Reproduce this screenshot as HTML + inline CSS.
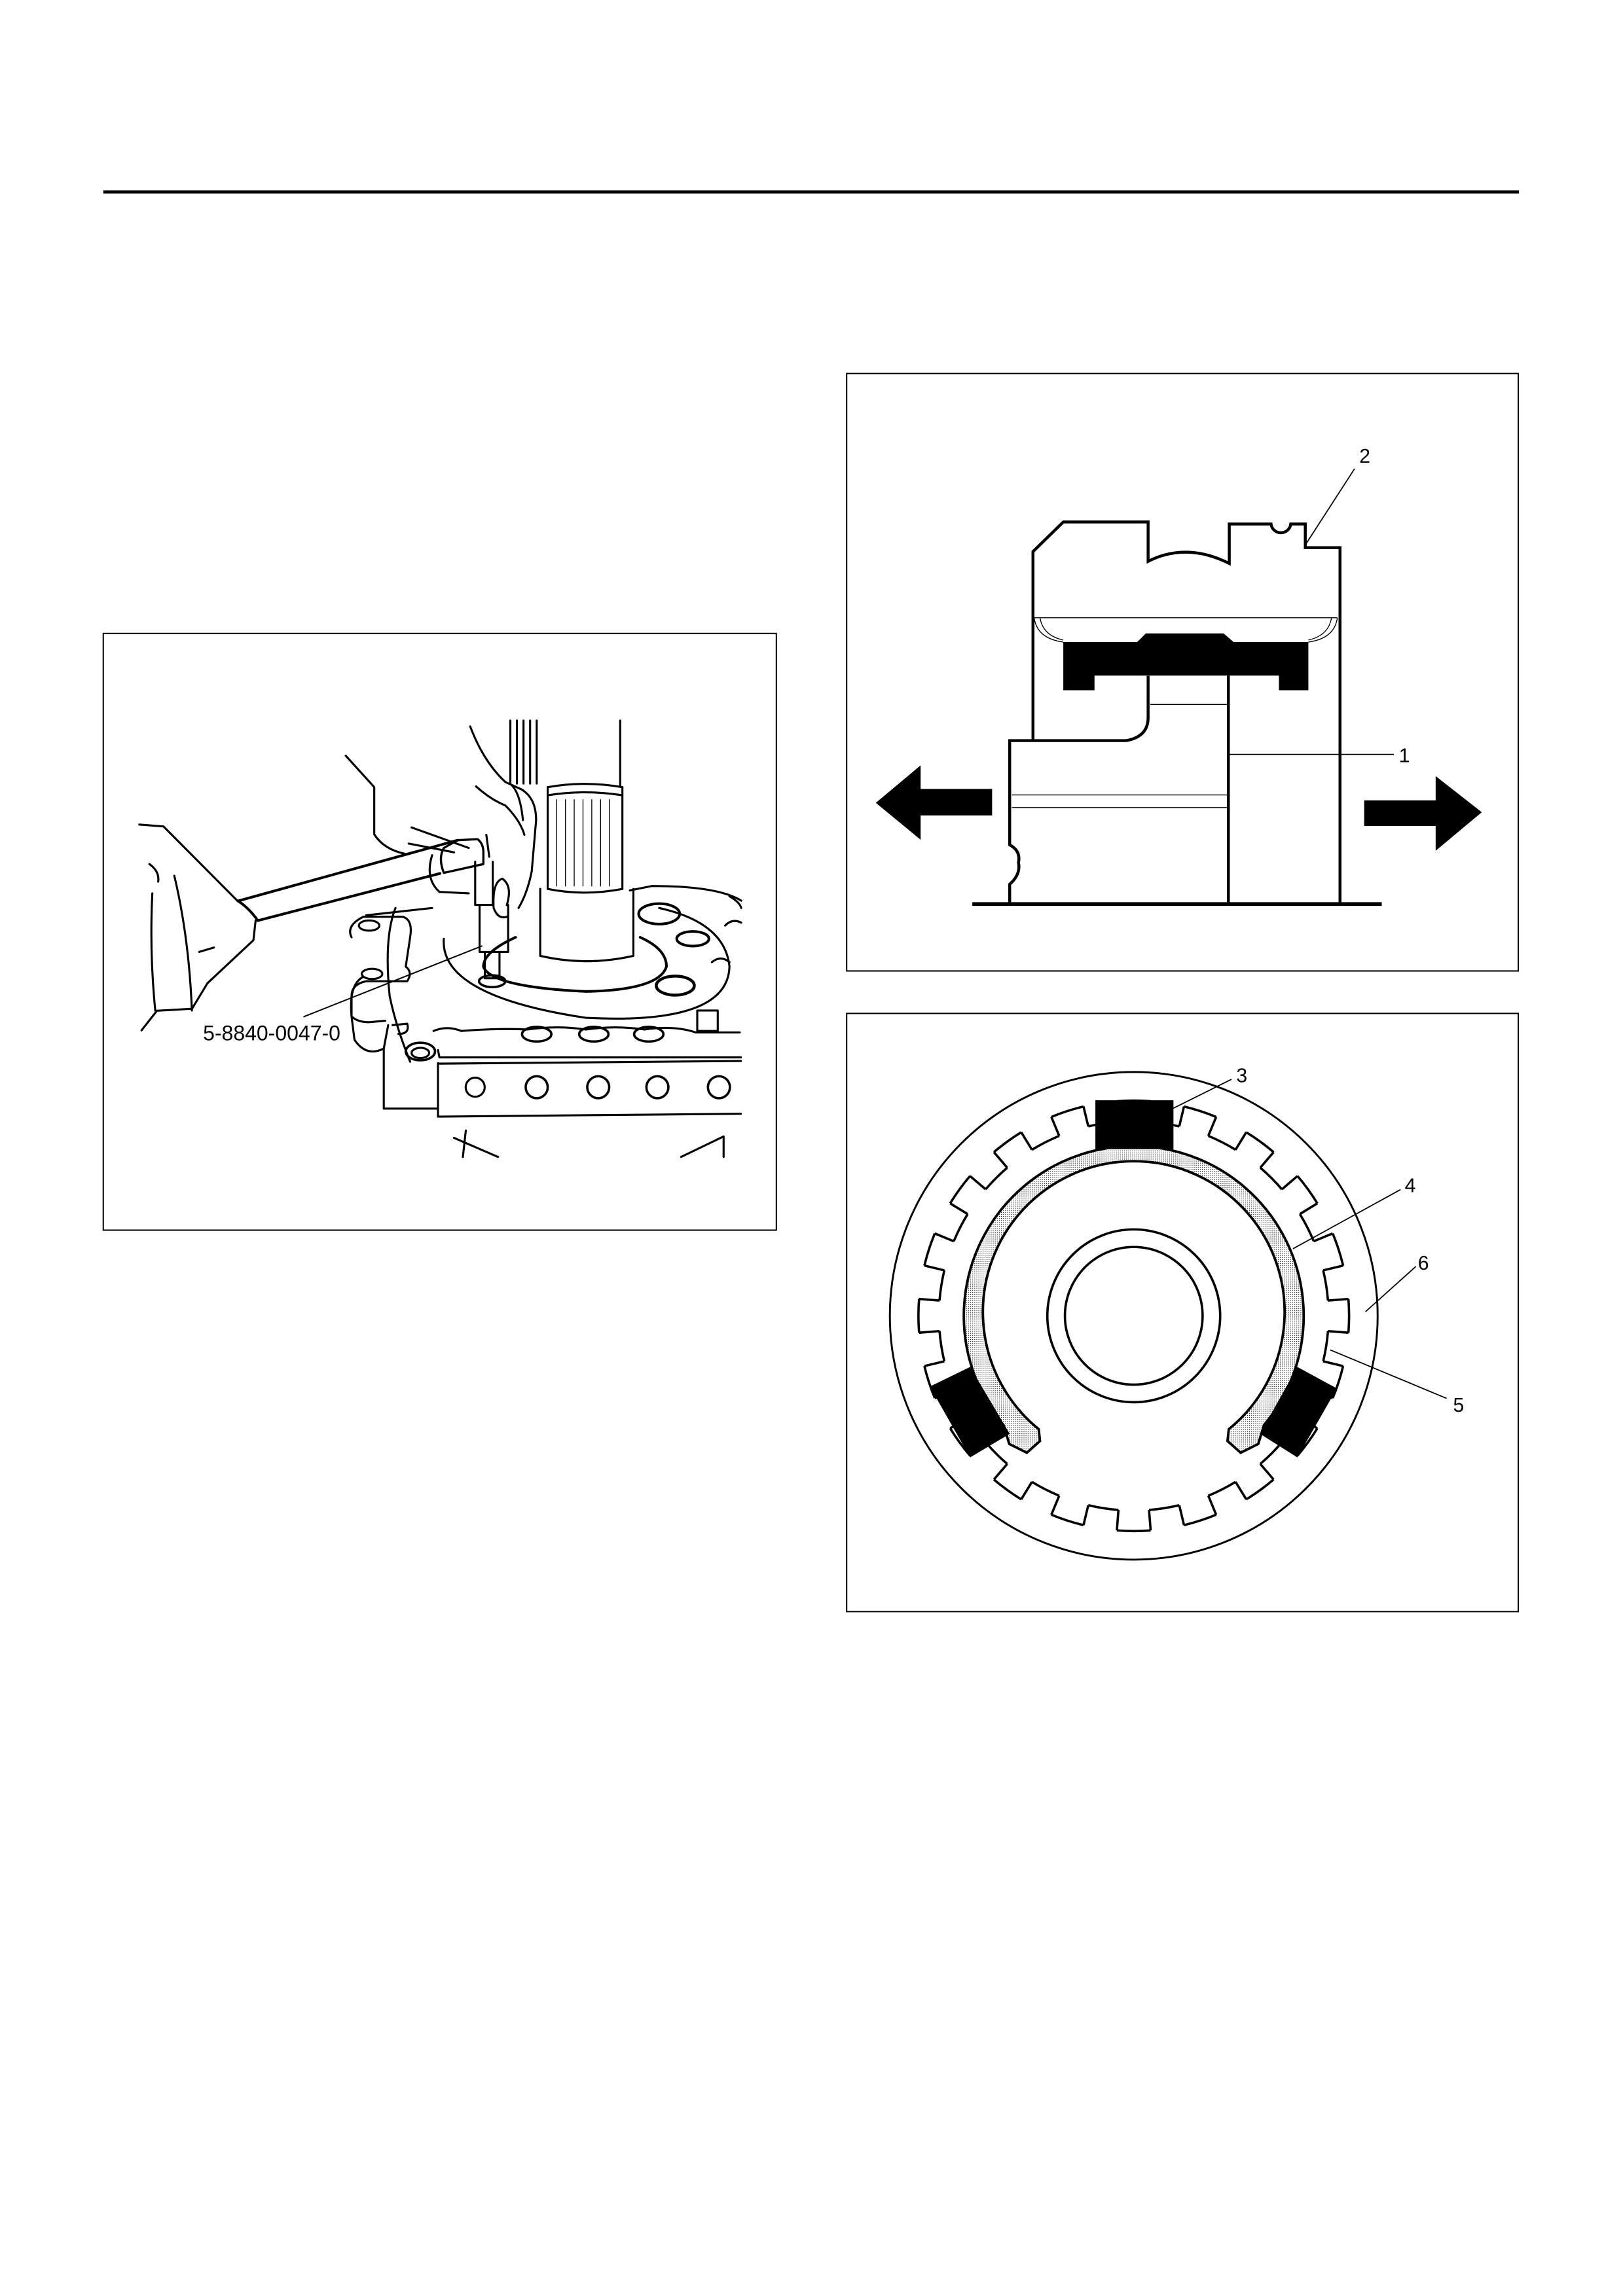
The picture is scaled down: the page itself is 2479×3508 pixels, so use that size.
<!DOCTYPE html>
<html><head><meta charset="utf-8"><style>
html,body{margin:0;padding:0;background:#fff;}
svg{display:block;}
text{font-family:"Liberation Sans",Arial,sans-serif;fill:#000;}
</style></head><body>
<svg width="2479" height="3508" viewBox="0 0 1108 1567.8" xmlns="http://www.w3.org/2000/svg">
<defs>
<pattern id="dots" width="1.4" height="1.4" patternUnits="userSpaceOnUse">
<rect width="1.4" height="1.4" fill="#fff"/><rect x="0.2" y="0.2" width="0.5" height="0.5" fill="#000"/>
</pattern>
<g id="t2" stroke="#000" stroke-width="1.6">
<line x1="907" y1="898.5" x2="921" y2="898.5" transform="rotate(4.5 774 898.5)"/>
<line x1="907" y1="898.5" x2="921" y2="898.5" transform="rotate(13.5 774 898.5)"/>
</g>
<g id="t10">
<use href="#t2"/>
<use href="#t2" transform="rotate(18 774 898.5)"/>
<use href="#t2" transform="rotate(36 774 898.5)"/>
<use href="#t2" transform="rotate(54 774 898.5)"/>
<use href="#t2" transform="rotate(72 774 898.5)"/>
</g>
</defs>
<rect x="0" y="0" width="1108" height="1567.8" fill="#fff"/>
<line x1="70.5" y1="131" x2="1037" y2="131" stroke="#000" stroke-width="2.1"/>

<rect x="70.5" y="432.5" width="459.5" height="407.5" fill="none" stroke="#000" stroke-width="0.9"/>
<rect x="578" y="255" width="458.5" height="408" fill="none" stroke="#000" stroke-width="0.9"/>
<rect x="578" y="692" width="458.5" height="408.5" fill="none" stroke="#000" stroke-width="0.9"/>

<!-- TOP RIGHT -->
<g fill="none" stroke="#000" stroke-width="2">
<path d="M705.2 505.7 L705.2 376.6 L725.9 356.4 L783.8 356.4 L783.8 383.3 Q810 370 839.2 384.7 L839.2 357.8 L867.7 357.8 A6.8 6.8 0 0 0 881.2 357.8 L891.1 357.8 L891.1 373.9 L914.8 373.9 L914.8 616"/>
<path d="M689.3 616 L689.3 603.8 Q697 597 695.3 589 Q697 581 689.3 576.9 L689.3 505.7 L768.8 505.7 Q783.8 503 783.8 490 L783.8 461.5"/>
<line x1="838.6" y1="461.3" x2="838.6" y2="616"/>
<line x1="663.8" y1="617.3" x2="943.3" y2="617.3" stroke-width="2.6"/>
</g>
<g fill="none" stroke="#000" stroke-width="0.6">
<line x1="706" y1="421.8" x2="913" y2="421.8"/>
<path d="M706 421.8 Q708 436 725.9 438.4"/>
<path d="M710 421.8 Q712 434 725.9 437"/>
<path d="M913 421.8 Q911 436 893.2 438.4"/>
<path d="M909 421.8 Q907 434 893.2 437"/>
<line x1="785.3" y1="481" x2="838.6" y2="481"/>
<line x1="690.8" y1="542.8" x2="838.6" y2="542.8"/>
<line x1="690.8" y1="551.4" x2="838.6" y2="551.4"/>
<line x1="838.6" y1="515.1" x2="951.6" y2="515.1" stroke-width="0.8"/>
<line x1="891.7" y1="371.2" x2="924.7" y2="320.1" stroke-width="0.8"/>
</g>
<path d="M725.9 438.4 L776.3 438.4 L782.3 432.5 L835.3 432.5 L842.2 438.4 L893.2 438.4 L893.2 471.3 L873.1 471.3 L873.1 461.3 L747.2 461.3 L747.2 471.3 L725.9 471.3 Z" fill="#000"/>
<path d="M597.9 548.2 L628.5 522.6 L628.5 538.7 L677.3 538.7 L677.3 556.8 L628.5 556.8 L628.5 573.4 Z" fill="#000"/>
<path d="M1011.6 554.6 L980.1 529.9 L980.1 546.5 L931.3 546.5 L931.3 564 L980.1 564 L980.1 580.9 Z" fill="#000"/>
<text x="928" y="316" font-size="13.5">2</text>
<text x="955" y="520.5" font-size="13.5">1</text>

<!-- BOTTOM RIGHT -->
<g fill="none" stroke="#000">
<circle cx="774" cy="898.5" r="166.5" stroke-width="1.3"/>
<circle cx="774" cy="898.5" r="59" stroke-width="1.6"/>
<circle cx="774" cy="898.5" r="47" stroke-width="1.6"/>
<circle cx="774" cy="898.5" r="147" stroke-width="1.6" stroke-dasharray="23.09 23.09" transform="rotate(13.5 774 898.5)"/>
<circle cx="774" cy="898.5" r="133" stroke-width="1.6" stroke-dasharray="20.89 20.89" transform="rotate(4.5 774 898.5)"/>
</g>
<use href="#t10"/>
<use href="#t10" transform="rotate(90 774 898.5)"/>
<use href="#t10" transform="rotate(180 774 898.5)"/>
<use href="#t10" transform="rotate(270 774 898.5)"/>
<path d="M862.9 973.1 A116 116 0 1 0 685.1 973.1 L689 986 L701 992 L710 984 L709.1 975.9 A103 103 0 1 1 838.9 975.9 L838 984 L847 992 L859 986 Z" fill="url(#dots)" stroke="#000" stroke-width="1.7"/>
<rect x="747.8" y="751.3" width="53.3" height="33.4" fill="#000"/>
<path d="M634.8 946.8 L662.3 933.4 L689.3 979.1 L662.3 995.2 Z" fill="#000"/>
<path d="M885.7 933.4 L912.7 948.1 L885.7 995.2 L860.2 979.1 Z" fill="#000"/>
<g stroke="#000" stroke-width="0.8">
<line x1="801.1" y1="756.7" x2="840.7" y2="737"/>
<line x1="882.7" y1="852.7" x2="956.1" y2="812.3"/>
<line x1="932.2" y1="895.7" x2="966.6" y2="864.8"/>
<line x1="908.2" y1="921.8" x2="987.6" y2="954.9"/>
</g>
<text x="844" y="739" font-size="13.5">3</text>
<text x="959" y="814" font-size="13.5">4</text>
<text x="968" y="867" font-size="13.5">6</text>
<text x="992" y="964" font-size="13.5">5</text>

<!-- LEFT ILLUSTRATION -->
<g fill="none" stroke="#000" stroke-width="1.4" stroke-linecap="round" stroke-linejoin="round">
<path d="M348.4 492 V535 M352.9 492 V535 M357.4 492 V535 M361.9 492 V535 M366.4 492 V535 M423.4 492 V537"/>
<path d="M373.9 537.5 Q399 533 424.9 537.5"/>
<path d="M373.9 543 Q399 539 424.9 543"/>
<path d="M373.9 537.5 L373.9 607 M424.9 537.5 L424.9 607"/>
<path stroke-width="0.6" d="M380 546 V605 M386 546 V605 M392 546 V605 M398 546 V605 M404 546 V605 M410 546 V605 M416 546 V605"/>
<path d="M373.9 607 Q399 612 424.9 607"/>
<path d="M368.8 607 L368.8 652.7 Q400 660 432.4 652.7 L432.4 607"/>
<path d="M303 641 Q300 680 400 695 Q497 700 498 660 Q495 630 450 620"/>
<path d="M352 640 Q330 650 330 660 Q335 674 400 677 Q450 676 455 660 Q455 648 437 640" stroke-width="1.8"/>
<path d="M250 625 L295 620 M240 640 Q236 632 248 626 L275 626 Q282 628 280 640 L277 660 Q282 664 278 670 L250 670 Q240 672 240 680 L240 694 Q244 698 252 698 L263 697"/>
<path d="M248 667 Q238 672 240 694 L242 710 Q250 722 262 716 L265 700"/>
<path d="M262 716 L262 757 L299 757"/>
<ellipse cx="252" cy="632" rx="7" ry="3.5"/>
<ellipse cx="254" cy="665" rx="7" ry="3.5"/>
<ellipse cx="287" cy="718" rx="10" ry="6" stroke-width="1.6"/>
<ellipse cx="287" cy="719" rx="6" ry="3.5"/>
<path d="M268 700 L278 699 Q280 706 272 706"/>
<path d="M270 620 Q262 640 266 680 Q270 700 280 725"/>
<path d="M299 717 L300 722 L505.8 722"/>
<path d="M296 704 Q305 700 315 704 Q340 702 360 703 Q380 700 400 703 Q420 700 440 703 Q460 700 475 705 L505 705"/>
<path d="M299 726.3 L505.8 724.5 M299 762.5 L505.8 760.5 M299 726 L299 762.5"/>
<circle cx="324.4" cy="742.4" r="6.5"/>
<g stroke-width="1.6">
<circle cx="366.4" cy="742.4" r="7.5"/>
<circle cx="408.4" cy="742.4" r="7.5"/>
<circle cx="448.8" cy="742.4" r="7.5"/>
<circle cx="490.8" cy="742.4" r="7.5"/>
<ellipse cx="366.4" cy="706.2" rx="10" ry="5"/>
<ellipse cx="405.4" cy="706.2" rx="10" ry="5"/>
<ellipse cx="442.9" cy="706.2" rx="10" ry="5"/>
</g>
<path d="M430 608 L445 605 Q490 605 506 615"/>
<ellipse cx="450" cy="624" rx="14" ry="7" stroke-width="1.8"/>
<ellipse cx="473" cy="641" rx="11" ry="5" stroke-width="1.8"/>
<ellipse cx="461" cy="673" rx="13" ry="6.5" stroke-width="2"/>
<path d="M486 657 Q492 652 498 657"/>
<path d="M476 690 L476 704 L490 704 L490 690 Z"/>
<path d="M498 612 Q505 616 506 620 M495 632 Q500 627 506 630"/>
<path d="M310 777 L340 790 M318 772 L316 790 M465 790 L494 776 L494 790"/>
<path d="M162.5 615.2 L312.4 573.7 M176 628.6 L300.4 596.4" stroke-width="1.8"/>
<path d="M162.5 615.2 Q170 620 176 628.6" stroke-width="1.8"/>
<path d="M312.4 573.7 L326 573 Q330 576 330 582 L330 590 L303 596 Q299 586 303 579 Z" stroke-width="1.5"/>
<path d="M324.4 588.4 L324.4 617.9 L336.4 617.9 L336.4 588.4"/>
<path d="M327.4 617.9 L327.4 650 L346.9 650 L346.9 617.9"/>
<path d="M331 650 L331 668 L341 668 L341 650"/>
<ellipse cx="336" cy="670" rx="9" ry="4" stroke-width="1.6"/>
<line x1="207.5" y1="694.2" x2="328.9" y2="646" stroke-width="0.9"/>
<path d="M95.1 563 L111.6 564.3 L162 615 M174.5 628.6 L173 642 L141.6 671.4 L131.1 688.8 L107.1 690.2 L96.6 703.6"/>
<path d="M102 590 Q109 595 108 602 M119 598 Q129 640 131 690 M104 610 Q102 650 106 690 M136 650 L146 647"/>
<path d="M236 516 L255.5 537.5 L255.5 569.7 Q262 580 276.5 583"/>
<path d="M279 576 L310 582 M281 565 L320 579 M332 570 L334 585"/>
<path d="M295 584 Q290 600 300 609 L320 610"/>
<path d="M321 496 Q330 520 345 534 L356 539 Q366 545 366 560 L363 595 Q360 610 354 620 M325 537 Q335 546 345 550 Q355 560 358 570 M348 535 Q355 540 357 560 M346 618 Q350 605 343 600 Q336 602 337 620 Q340 628 346 626"/>
</g>
<text x="138.6" y="710.3" font-size="14.3">5-8840-0047-0</text>
</svg>
</body></html>
